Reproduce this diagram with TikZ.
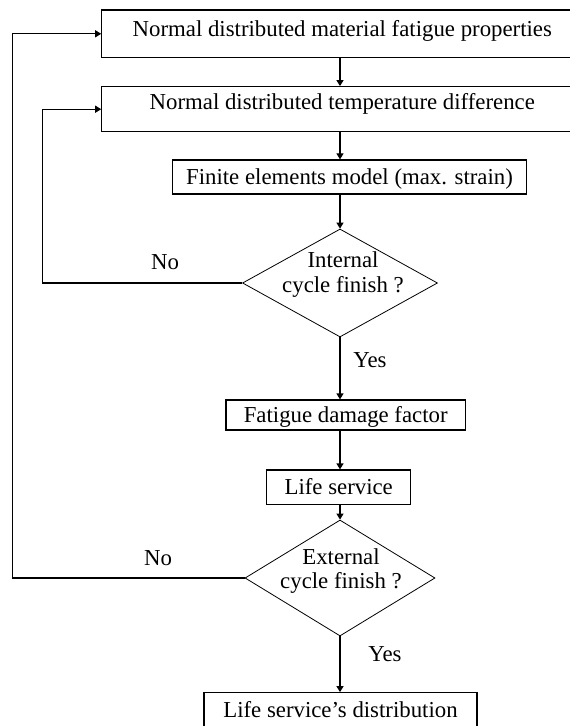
\documentclass[tikz,border=0pt]{standalone}
\usepackage{fontspec}
\setmainfont{Liberation Serif}
\usetikzlibrary{shapes.geometric, calc, arrows.meta}

\begin{document}
\begin{tikzpicture}[
    x=0.5pt, y=0.5pt,
    line width=0.6pt,
    font=\fontsize{11.4}{12.3}\selectfont,
    stepbox/.style={draw, inner sep=2pt, text height=7.6pt, text depth=0pt},
    decision/.style={draw, shape=diamond, inner sep=0pt, line width=0.4pt},
    qtext/.style={align=center, inner sep=0pt},
    answer/.style={inner sep=0pt, text height=7.6pt, text depth=0pt},
    flow/.style={-{Triangle[length=3pt, width=3.5pt]}}
]

    % Page frame and main flow line
    \useasboundingbox (0,0) rectangle (569,-726);
    \coordinate (spine) at (340,0);

    % Input boxes (run past the right edge)
    \node[stepbox, minimum width=240.5pt, minimum height=23.85pt, text depth=4.6pt] (props) at (342.3,-33.8) {Normal distributed material fatigue properties};
    \node[stepbox, minimum width=240.5pt, minimum height=22.5pt, text depth=7.5pt] (temp) at (342.3,-109.2) {Normal distributed temperature difference};

    % FE model and internal check
    \node[stepbox, minimum width=177.2pt, minimum height=17pt] (fem) at (349.5,-177) {Finite elements model (max. strain)};
    \node[decision, minimum width=97.5pt, minimum height=54pt] (inner) at (340,-283) {};
    \node[qtext] (innertext) at (343,-274.5) {Internal\\cycle finish ?};

    % Damage and life
    \node[stepbox, minimum width=119.7pt, minimum height=15pt] (damage) at (345.7,-415) {Fatigue damage factor};
    \node[stepbox, minimum width=72pt, minimum height=17.2pt] (life) at (338.7,-487.2) {Life service};

    % External check and result
    \node[decision, minimum width=95pt, minimum height=58pt] (outer) at (340,-578) {};
    \node[qtext] (outertext) at (341,-571) {External\\cycle finish ?};
    \node[stepbox, minimum width=136.5pt, minimum height=17pt] (dist) at (340.5,-709.7) {Life service’s distribution};

    % Main arrows
    \draw[flow] (props.south -| spine) -- (temp.north -| spine);
    \draw[flow] (temp.south -| spine) -- (fem.north -| spine);
    \draw[flow] (fem.south -| spine) -- (inner.north);
    \draw[flow] (inner.south) -- (damage.north -| inner.south);
    \draw[flow] (damage.south -| spine) -- (life.north -| spine);
    \draw[flow] (life.south -| spine) -- (outer.north);
    \draw[flow] (outer.south) -- (dist.north -| outer.south);

    % Loops back
    \draw[flow] (inner.west) -| ($(temp.west)+(-58.4,0)$) -- (temp.west);
    \draw[flow] (outer.west) -| ($(props.west)+(-88.4,0)$) -- (props.west);

    % Yes / No labels
    \node[answer] (no1) at (165,-262) {No};
    \node[answer] (yes1) at (370,-360) {Yes};
    \node[answer] (no2) at (158,-557.7) {No};
    \node[answer] (yes2) at (385,-654.3) {Yes};

\end{tikzpicture}
\end{document}
